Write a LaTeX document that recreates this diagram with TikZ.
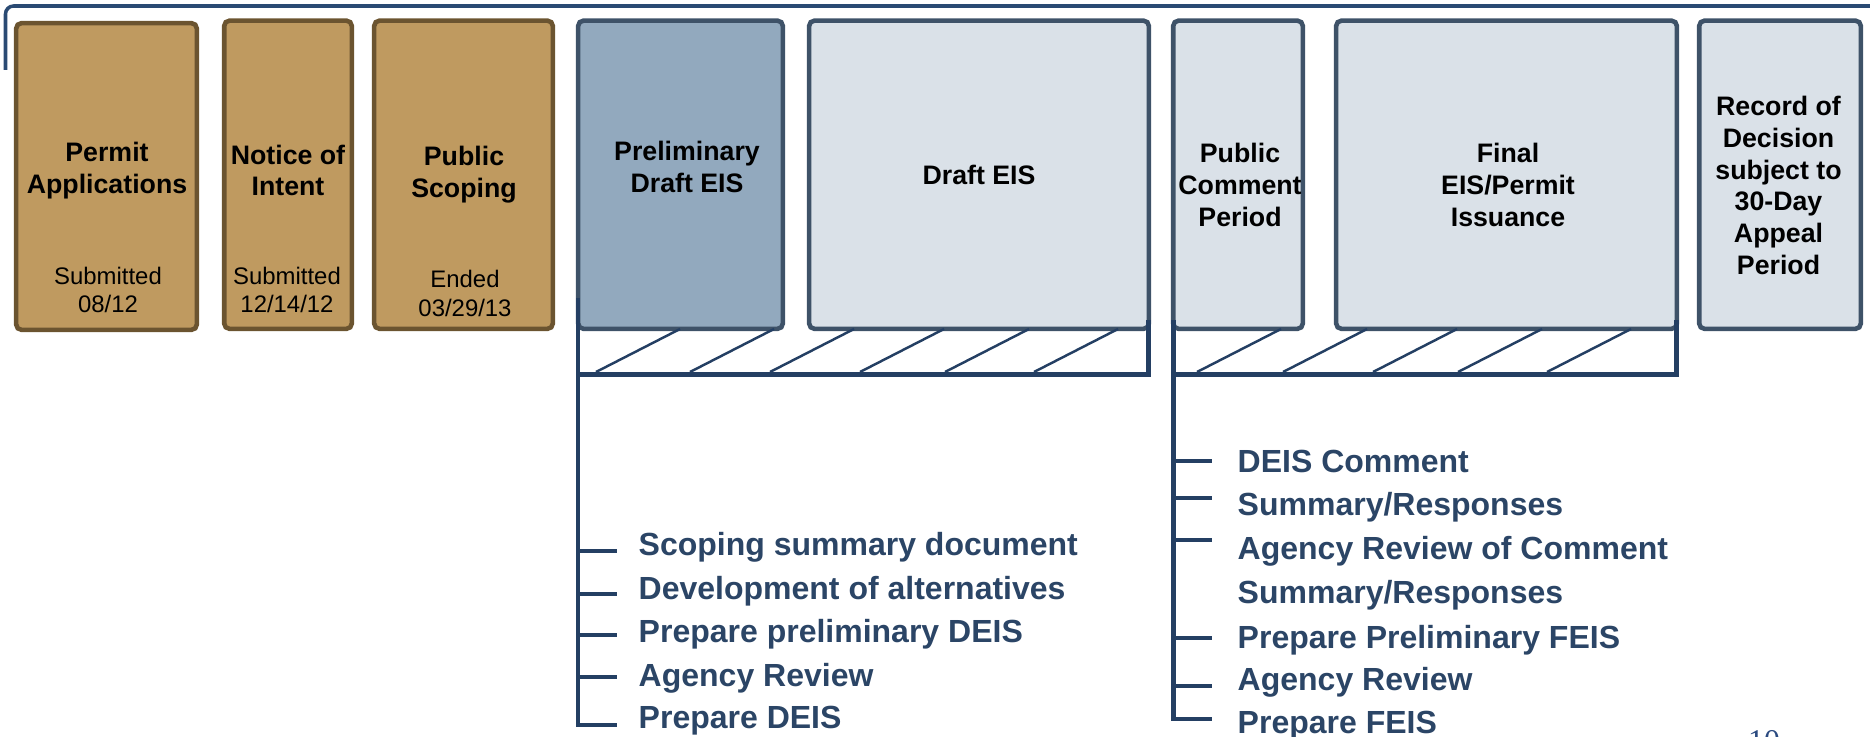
\documentclass[tikz,border=0pt]{standalone}
\usepackage{fontspec}
\setmainfont{Liberation Sans}
\newfontfamily\pagenofont{Liberation Serif}

\definecolor{tanfill}{HTML}{BF9A60}
\definecolor{tanline}{HTML}{6B5430}
\definecolor{prelimfill}{HTML}{92A9BE}
\definecolor{lightfill}{HTML}{DAE1E8}
\definecolor{boxline}{HTML}{3E5268}
\definecolor{barline}{HTML}{243F63}
\definecolor{topline}{HTML}{2A4A73}
\definecolor{itemtext}{HTML}{2B4566}
\definecolor{pagenum}{HTML}{2B4A80}

\begin{document}
\begin{tikzpicture}[x=0.01cm, y=-0.01cm,
    box/.style={draw, rectangle, line width=1.3pt, rounded corners=1.5pt, inner sep=0pt, minimum height=3.08cm},
    tanbox/.style={box, draw=tanline, fill=tanfill},
    darkbox/.style={box, draw=boxline, fill=prelimfill},
    lightbox/.style={box, draw=boxline, fill=lightfill},
    title/.style={align=center, inner sep=0pt, font=\fontsize{7.6}{9}\selectfont\bfseries},
    date/.style={align=center, inner sep=0pt, font=\fontsize{6.8}{8}\selectfont},
    item/.style={anchor=base west, inner sep=0pt, text=itemtext, font=\fontsize{9.1}{11}\selectfont\bfseries},
    bar/.style={draw=barline, line width=1.4pt},
    hatch/.style={draw=barline, line width=0.7pt}]

     \useasboundingbox (0,0) rectangle (1870,737);

     \draw [line width=1pt, color=topline, rounded corners=0.08cm] (5.5,70) -- (5.5,6) -- (1880,6);

     \node (permit)  at (106.5,176.5)  [tanbox, minimum width=1.805cm, minimum height=3.065cm] {};
     \node (notice)  at (288,174.75)   [tanbox, minimum width=1.275cm] {};
     \node (scoping) at (463.5,174.75) [tanbox, minimum width=1.785cm] {};
     \node (prelim)  at (680.5,174.75) [darkbox, minimum width=2.045cm] {};
     \node (draft)   at (979,174.75)   [lightbox, minimum width=3.395cm] {};
     \node (comment) at (1238,174.75)  [lightbox, minimum width=1.295cm] {};
     \node (final)   at (1506.5,174.75) [lightbox, minimum width=3.405cm] {};
     \node (record)  at (1780,174.75)  [lightbox, minimum width=1.615cm] {};

     \node (permit-t)  at (107,170.5)    [title] {Permit\\Applications};
     \node (notice-t)  at (288,170.5)    [title] {Notice of\\Intent};
     \node (scoping-t) at (464,174.5)    [title] {Public\\Scoping};
     \node (prelim-t)  at (687,167)      [title] {Preliminary\\Draft EIS};
     \node (draft-t)   at (979,175)      [title] {Draft EIS};
     \node (comment-t) at (1240,185)     [title] {Public\\Comment\\Period};
     \node (final-t)   at (1508,185)     [title] {Final\\EIS/Permit\\Issuance};
     \node (record-t)  at (1778.5,185.5) [title] {Record of\\Decision\\subject to\\30-Day\\Appeal\\Period};

     \node (permit-d)  at (108,290)   [date] {Submitted\\08/12};
     \node (notice-d)  at (287,290)   [date] {Submitted\\12/14/12};
     \node (scoping-d) at (465,293.5) [date] {Ended\\03/29/13};

     % draft EIS bar
     \foreach \x in {596,690,770,860,945,1034}
          \draw [hatch] (\x,372) -- ++(84,-43);
     \draw [bar] (1148.75,320) -- (1148.75,374.5) -- (578,374.5);
     \draw [bar] (578,298) -- (578,725) -- (617,725);
     \foreach \y in {551,594,635,677}
          \draw [bar] (578,\y) -- (617,\y);

     % final EIS bar
     \foreach \x in {1197,1283,1373,1458,1547}
          \draw [hatch] (\x,372) -- ++(84,-43);
     \draw [bar] (1676.75,320) -- (1676.75,374.5) -- (1173.25,374.5);
     \draw [bar] (1173.25,320) -- (1173.25,719) -- (1212,719);
     \foreach \y in {461,498,540,638,686}
          \draw [bar] (1173.25,\y) -- (1212,\y);

     \node (deis1) at (638,555.5) [item] {Scoping summary document};
     \node (deis2) at (638,599.5) [item] {Development of alternatives};
     \node (deis3) at (638,642.5) [item] {Prepare preliminary DEIS};
     \node (deis4) at (638,686.5) [item] {Agency Review};
     \node (deis5) at (638,728.5) [item] {Prepare DEIS};

     \node (feis1) at (1237,472.5) [item] {DEIS Comment};
     \node (feis2) at (1237,515.5) [item] {Summary/Responses};
     \node (feis3) at (1237,559.5) [item] {Agency Review of Comment};
     \node (feis4) at (1237,603.5) [item] {Summary/Responses};
     \node (feis5) at (1237,648.5) [item] {Prepare Preliminary FEIS};
     \node (feis6) at (1237,690.5) [item] {Agency Review};
     \node (feis7) at (1237,733.5) [item] {Prepare FEIS};

     \node (pageno) at (1764,751.5) [anchor=base, inner sep=0pt, text=pagenum, font=\pagenofont\fontsize{9}{11}\selectfont] {10};

\end{tikzpicture}
\end{document}
